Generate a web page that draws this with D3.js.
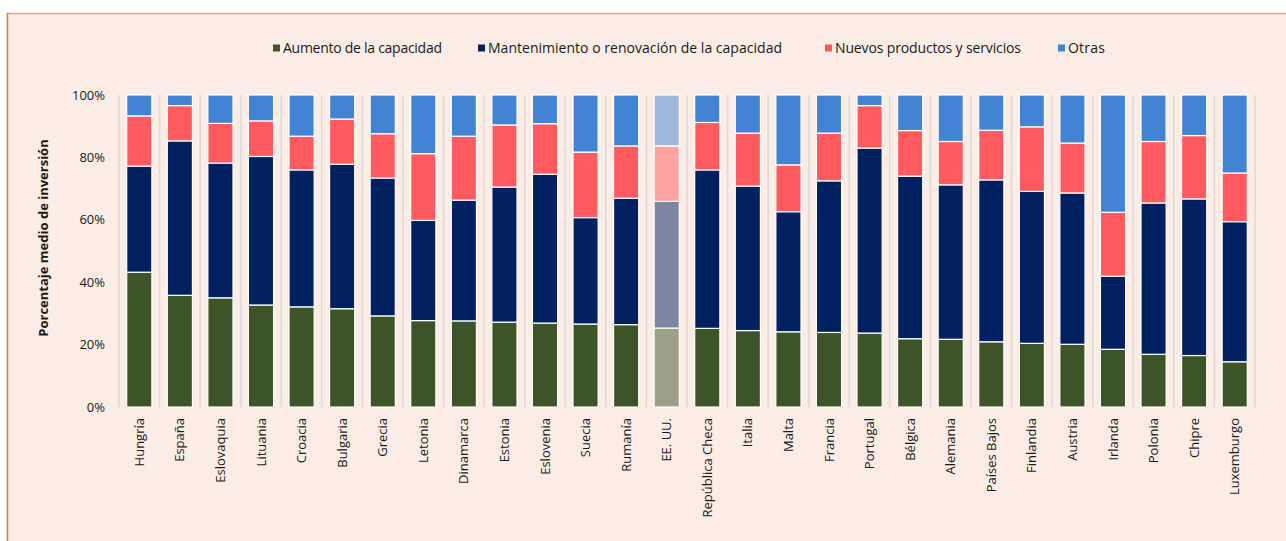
<!DOCTYPE html>
<html>
<head>
<meta charset="utf-8">
<script src="https://cdn.jsdelivr.net/npm/d3@7"></script>
<style>
  body { margin: 0; background: #fff; }
  svg { display: block; }
  text { font-family: "Open Sans", "Noto Sans", sans-serif; fill: #1a1a1a; }
</style>
</head>
<body>
<div id="graph"></div>
<script>
var width = 1286,
    height = 541

// categories and series (percent of investment)
var countries = ['Hungría', 'España', 'Eslovaquia', 'Lituania', 'Croacia', 'Bulgaria', 'Grecia', 'Letonia',
  'Dinamarca', 'Estonia', 'Eslovenia', 'Suecia', 'Rumanía', 'EE. UU.', 'República Checa', 'Italia', 'Malta',
  'Francia', 'Portugal', 'Bélgica', 'Alemania', 'Países Bajos', 'Finlandia', 'Austria', 'Irlanda', 'Polonia',
  'Chipre', 'Luxemburgo']
var aumento = [43.2, 35.8, 35.0, 32.7, 32.1, 31.5, 29.2, 27.7, 27.6, 27.2, 26.9, 26.6, 26.4, 25.3, 25.2, 24.5,
  24.1, 23.9, 23.7, 21.9, 21.7, 20.9, 20.4, 20.1, 18.5, 16.9, 16.5, 14.5]
var mantenimiento = [34.0, 49.5, 43.2, 47.6, 43.9, 46.3, 44.2, 32.1, 38.7, 43.3, 47.7, 34.1, 40.5, 40.6, 50.8,
  46.3, 38.5, 48.6, 59.3, 52.1, 49.5, 51.9, 48.7, 48.5, 23.4, 48.5, 50.2, 44.9]
var nuevos = [16.1, 11.3, 12.7, 11.4, 10.8, 14.5, 14.2, 21.4, 20.5, 19.9, 16.2, 21.0, 16.8, 17.8, 15.2, 17.0,
  15.0, 15.3, 13.6, 14.6, 13.9, 15.9, 20.7, 16.0, 20.5, 19.7, 20.3, 15.6]
var otras = [6.7, 3.4, 9.1, 8.3, 13.2, 7.7, 12.4, 18.8, 13.2, 9.6, 9.2, 18.3, 16.3, 16.3, 8.8, 12.2, 22.4, 12.2,
  3.4, 11.4, 14.9, 11.3, 10.2, 15.4, 37.6, 14.9, 13.0, 25.0]
var seriesNames = ['Aumento de la capacidad', 'Mantenimiento o renovación de la capacidad',
  'Nuevos productos y servicios', 'Otras']
var yTicks = [0, 20, 40, 60, 80, 100]
var highlight = 'EE. UU.'

var colors = ['#3d5429', '#002060', '#ff5a5f', '#4383d4']
var keys = ['aumento', 'mantenimiento', 'nuevos', 'otras']

var data = countries.map(function(c, i) {
  return {country: c, aumento: aumento[i], mantenimiento: mantenimiento[i], nuevos: nuevos[i], otras: otras[i]}
})
var stacked = d3.stack().keys(keys)(data)

var svg = d3.select('#graph').append('svg')
    .attr('width', width)
    .attr('height', height)

// panel
svg.append('rect')
    .attr('x', 7).attr('y', 13)
    .attr('width', width).attr('height', height)
    .attr('fill', '#fbede5')
svg.append('line').attr('x1', 7).attr('x2', width).attr('y1', 13.5).attr('y2', 13.5)
    .attr('stroke', '#f4a36b').attr('stroke-width', 1.5)
svg.append('line').attr('x1', 7.5).attr('x2', 7.5).attr('y1', 13).attr('y2', height)
    .attr('stroke', '#e07b34').attr('stroke-width', 1.5)

var x = d3.scaleBand().domain(countries).range([119, 1255]).paddingInner(0.38).paddingOuter(0.19)
var y = d3.scaleLinear().domain([0, 100]).range([407, 95])

// vertical separators between categories
var step = x.step()
var sepX = d3.range(countries.length + 1).map(function(i) { return 119 + i * step })
svg.append('g').selectAll('line').data(sepX).join('line')
    .attr('x1', function(d) { return d }).attr('x2', function(d) { return d })
    .attr('y1', y(100)).attr('y2', y(0))
    .attr('stroke', '#d9d9d9').attr('stroke-width', 1.5)

// bars
svg.append('g').selectAll('g').data(stacked).join('g')
    .attr('fill', function(d, i) { return colors[i] })
  .selectAll('rect').data(function(d) { return d }).join('rect')
    .attr('x', function(d) { return x(d.data.country) })
    .attr('width', x.bandwidth())
    .attr('y', function(d) { return y(d[1]) })
    .attr('height', function(d) { return y(d[0]) - y(d[1]) })
    .attr('fill-opacity', function(d) { return d.data.country === highlight ? 0.5 : 1 })
    .attr('stroke', '#fff').attr('stroke-width', 1.2)

// y axis
var yAxis = svg.append('g')
    .attr('transform', 'translate(105,0)')
    .call(d3.axisLeft(y).tickValues(yTicks).tickSize(0).tickPadding(0).tickFormat(function(d) { return d + '%' }))
yAxis.select('.domain').remove()
yAxis.selectAll('text').style('font-size', '13px').attr('fill', '#1a1a1a')

svg.append('text')
    .attr('transform', 'translate(48,238) rotate(-90)')
    .attr('text-anchor', 'middle')
    .style('font-size', '13px').style('font-weight', 'bold')
    .text('Porcentaje medio de inversión')

// x labels
var xAxis = svg.append('g')
    .attr('transform', 'translate(0,414)')
    .call(d3.axisBottom(x).tickSize(0).tickPadding(0))
xAxis.select('.domain').remove()
xAxis.selectAll('text')
    .attr('transform', 'rotate(-90)')
    .attr('text-anchor', 'end')
    .attr('x', -4).attr('y', 0).attr('dy', '0.35em')
    .attr('fill', '#1a1a1a')
    .style('font-size', '13px')

// legend
var legendX = [273, 478, 825, 1058]
var legendW = [159, 294, 186, 37]
var legend = svg.append('g').selectAll('g').data(seriesNames).join('g')
    .attr('transform', function(d, i) { return 'translate(' + legendX[i] + ',48)' })
legend.append('rect')
    .attr('x', 0).attr('y', -3.5).attr('width', 7).attr('height', 7)
    .attr('fill', function(d, i) { return colors[i] })
legend.append('text')
    .attr('x', 10).attr('dy', '0.35em')
    .attr('textLength', function(d, i) { return legendW[i] })
    .attr('lengthAdjust', 'spacing')
    .style('font-size', '14px')
    .text(function(d) { return d })
</script>
</body>
</html>
